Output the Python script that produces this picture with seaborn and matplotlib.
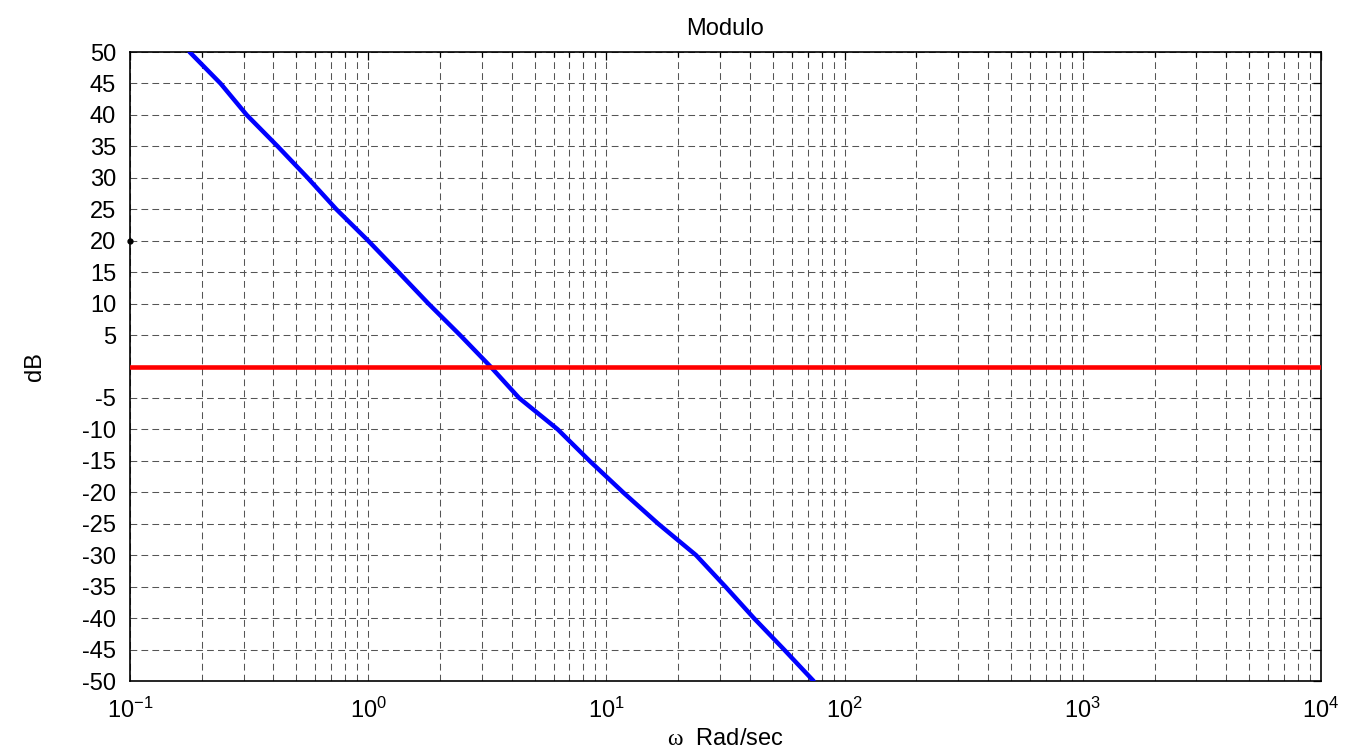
import numpy as np
import pandas as pd
import matplotlib
matplotlib.use("Agg")
import matplotlib.pyplot as plt
import seaborn as sns

# magnitude curve (rad/s, dB)
omega = [0.178, 0.240, 0.309, 0.417, 0.557, 0.735, 1.0, 1.34, 1.79, 2.43,
         3.26, 4.30, 6.25, 8.5, 11.75, 16.5, 23.8, 31.6, 41.6, 55.7, 74.1]
mag_db = [50, 45, 40, 35, 30, 25, 20, 15, 10, 5,
          0, -5, -10, -15, -20, -25, -30, -35, -40, -45, -50]
ref_level = 0          # red 0 dB line
marker_pt = (0.1, 20)  # small black dot on the left edge

yticks = [v for v in range(-50, 55, 5) if v != 0]

sns.set_theme(style="white")
plt.rcParams['font.family'] = ['Liberation Sans', 'DejaVu Sans']
plt.rcParams['axes.unicode_minus'] = False
plt.rcParams['mathtext.fontset'] = 'custom'
plt.rcParams['mathtext.rm'] = 'Liberation Sans'
plt.rcParams['mathtext.it'] = 'Liberation Serif'
plt.rcParams['text.color'] = 'black'
plt.rcParams['axes.labelcolor'] = 'black'

fig = plt.figure(figsize=(13.51, 7.56), dpi=100)
ax = fig.add_axes([0.0962, 0.0992, 0.8816, 0.832])

df = pd.DataFrame({"w": omega, "db": mag_db})
sns.lineplot(data=df, x="w", y="db", ax=ax, color="#0000ff", linewidth=3.2,
             sort=False, estimator=None, zorder=4)
ax.axhline(ref_level, color="#ff0000", linewidth=3.3, zorder=5)
ax.plot([marker_pt[0]], [marker_pt[1]], "o", color="black", markersize=3.5,
        clip_on=False, zorder=6)

ax.set_xscale("log")
ax.set_xlim(1e-1, 1e4)
ax.set_ylim(-50, 50)
ax.set_yticks(yticks)

grid_kw = dict(color="#555555", linewidth=0.75, dashes=(6.5, 4))
ax.grid(True, which="major", axis="both", **grid_kw)
ax.grid(True, which="minor", axis="x", **grid_kw)

ax.tick_params(which="both", direction="in", top=True, right=True,
               labelsize=17, colors="black")
ax.tick_params(which="major", length=6, width=0.9)
ax.tick_params(which="minor", length=3.5, width=0.9)
ax.tick_params(axis="x", pad=12)
ax.tick_params(axis="y", pad=10)
for s in ax.spines.values():
    s.set_color("black")
    s.set_linewidth(1.2)

ax.set_title("Modulo", fontsize=17, pad=12, color="black")
ax.set_xlabel(r"$\omega$  Rad/sec", fontsize=17, labelpad=4)
ax.set_ylabel("dB", fontsize=17, labelpad=26)

fig.savefig("out.png", dpi=100)
